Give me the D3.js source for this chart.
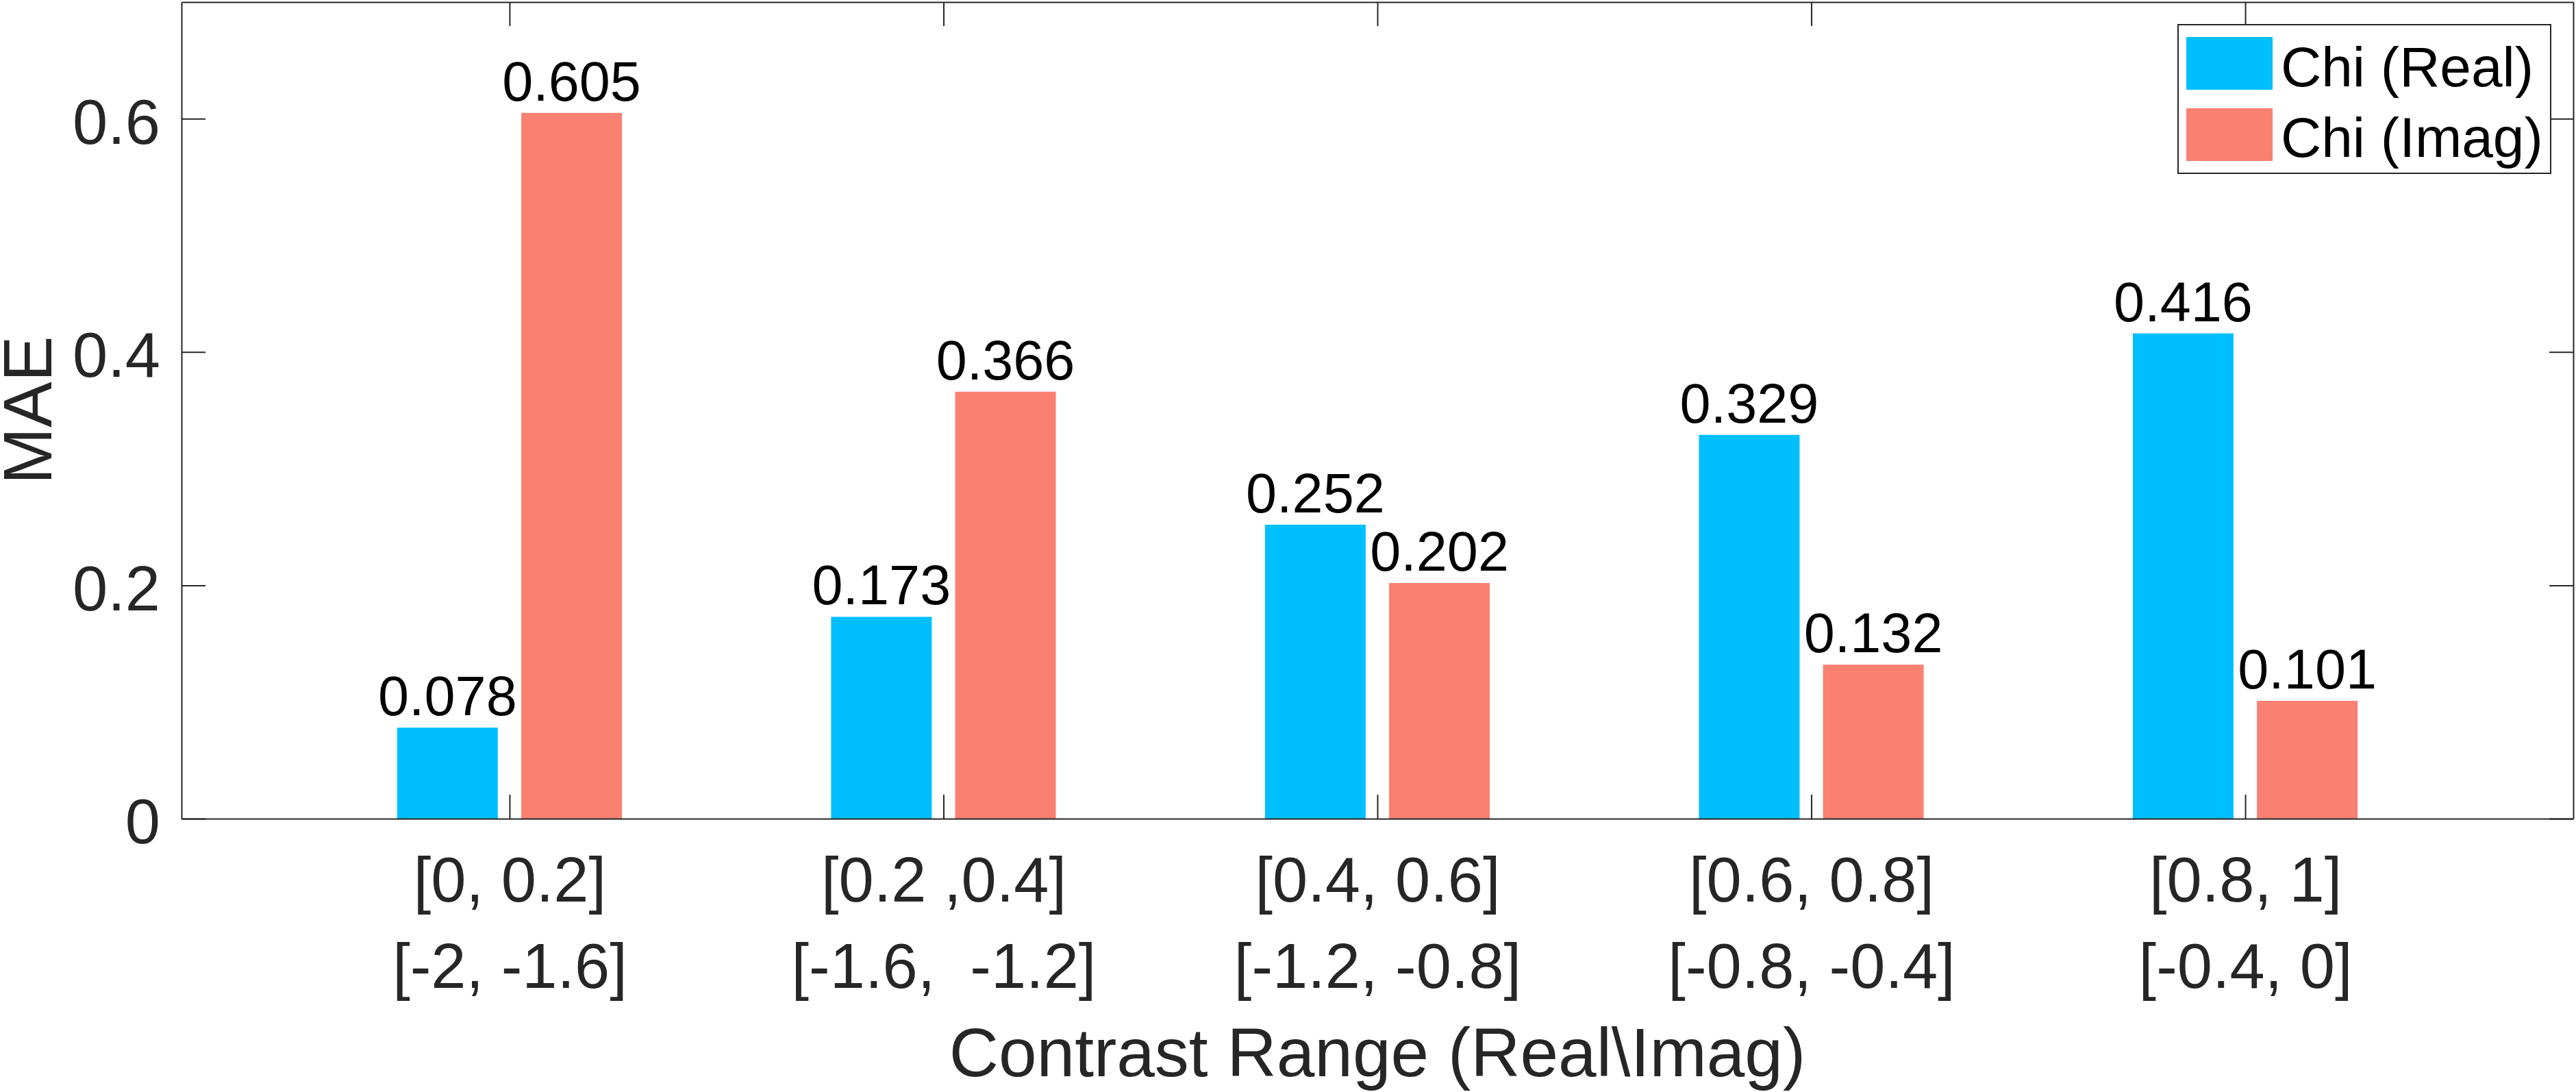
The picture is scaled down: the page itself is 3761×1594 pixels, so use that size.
<!DOCTYPE html>
<html>
<head>
<meta charset="utf-8">
<script src="https://cdn.jsdelivr.net/npm/d3@7"></script>
<style>
  html, body { margin: 0; padding: 0; background: #fff; }
  text { font-family: "Liberation Sans", Arial, Helvetica, sans-serif; white-space: pre; }
</style>
</head>
<body>
<div id="chart"></div>
<script>
const categories = [1, 2, 3, 4, 5];
const labelsReal = ["[0, 0.2]", "[0.2 ,0.4]", "[0.4, 0.6]", "[0.6, 0.8]", "[0.8, 1]"];
const labelsImag = ["[-2, -1.6]", "[-1.6,  -1.2]", "[-1.2, -0.8]", "[-0.8, -0.4]", "[-0.4, 0]"];
const chiReal = [0.078, 0.173, 0.252, 0.329, 0.416];
const chiImag = [0.605, 0.366, 0.202, 0.132, 0.101];
const seriesNames = ["Chi (Real)", "Chi (Imag)"];
const seriesColors = ["#00BFFF", "#FA8072"];
const yTicks = [0, 0.2, 0.4, 0.6];

const width = 3761;
const height = 1594;
const plotL = 265, plotR = 3757, plotT = 3, plotB = 1195;
const axisColor = "#262626";
const tickLen = 35;

const svg = d3.select("#chart")
  .append("svg")
  .attr("width", width)
  .attr("height", height);

svg.append("rect").attr("width", width).attr("height", height).attr("fill", "#fff");

const x = d3.scaleLinear().domain([0.244, 5.756]).range([plotL, plotR]);
const y = d3.scaleLinear().domain([0, 0.7]).range([plotB, plotT]);

const barW = 0.232;
const offset = 0.143;

// bars
const series = [chiReal, chiImag];
series.forEach((vals, s) => {
  const dx = s === 0 ? -offset : offset;
  svg.append("g")
    .selectAll("rect")
    .data(vals)
    .join("rect")
    .attr("x", (d, i) => x(categories[i] + dx - barW / 2))
    .attr("width", x(barW) - x(0))
    .attr("y", d => y(d))
    .attr("height", d => y(0) - y(d))
    .attr("fill", seriesColors[s]);

  svg.append("g")
    .selectAll("text")
    .data(vals)
    .join("text")
    .attr("x", (d, i) => x(categories[i] + dx))
    .attr("y", d => y(d) - 18)
    .attr("text-anchor", "middle")
    .attr("font-size", 81)
    .attr("fill", "#000")
    .text(d => d.toFixed(3));
});

const styleAxis = g => {
  g.select(".domain").attr("stroke", axisColor).attr("stroke-width", 2);
  g.selectAll(".tick line").attr("stroke", axisColor).attr("stroke-width", 2);
};

// left axis
svg.append("g")
  .attr("transform", `translate(${plotL},0)`)
  .call(d3.axisLeft(y).tickValues(yTicks).tickFormat(d => d === 0 ? "0" : d3.format(".1f")(d))
    .tickSize(-tickLen).tickSizeOuter(0).tickPadding(31))
  .call(styleAxis)
  .call(g => g.selectAll(".tick text")
    .attr("font-size", 92).attr("fill", axisColor).attr("dy", "0.39em")
    .attr("font-family", "Liberation Sans, Arial, sans-serif"));

// right axis
svg.append("g")
  .attr("transform", `translate(${plotR},0)`)
  .call(d3.axisRight(y).tickValues(yTicks).tickFormat("").tickSize(-tickLen).tickSizeOuter(0))
  .call(styleAxis);

// top axis
svg.append("g")
  .attr("transform", `translate(0,${plotT})`)
  .call(d3.axisTop(x).tickValues(categories).tickFormat("").tickSize(-tickLen).tickSizeOuter(0))
  .call(styleAxis);

// bottom axis with two-line labels
svg.append("g")
  .attr("transform", `translate(0,${plotB})`)
  .call(d3.axisBottom(x).tickValues(categories).tickFormat("").tickSize(-tickLen).tickSizeOuter(0))
  .call(styleAxis)
  .call(g => g.selectAll(".tick text").remove())
  .call(g => g.selectAll(".tick").each(function(d, i) {
    const t = d3.select(this).append("text")
      .attr("text-anchor", "middle")
      .attr("font-size", 92)
      .attr("fill", axisColor)
      .attr("font-family", "Liberation Sans, Arial, sans-serif");
    t.append("tspan").attr("x", 0).attr("y", 121).text(labelsReal[i]);
    t.append("tspan").attr("x", 0).attr("y", 247).text(labelsImag[i]);
  }));

// axis titles
svg.append("text")
  .attr("x", (plotL + plotR) / 2)
  .attr("y", 1571)
  .attr("text-anchor", "middle")
  .attr("font-size", 100)
  .attr("fill", axisColor)
  .text("Contrast Range (Real\\Imag)");

svg.append("text")
  .attr("transform", `translate(75,${(plotT + plotB) / 2}) rotate(-90)`)
  .attr("text-anchor", "middle")
  .attr("font-size", 100)
  .attr("fill", axisColor)
  .text("MAE");

// legend
const legend = svg.append("g");
legend.append("rect")
  .attr("x", 3180).attr("y", 36)
  .attr("width", 544).attr("height", 217)
  .attr("fill", "#fff")
  .attr("stroke", axisColor)
  .attr("stroke-width", 2);

seriesNames.forEach((name, i) => {
  legend.append("rect")
    .attr("x", 3192).attr("y", 54 + i * 104)
    .attr("width", 126).attr("height", 77)
    .attr("fill", seriesColors[i]);
  legend.append("text")
    .attr("x", 3330).attr("y", 126 + i * 103)
    .attr("font-size", 82)
    .attr("fill", "#000")
    .text(name);
});
</script>
</body>
</html>
